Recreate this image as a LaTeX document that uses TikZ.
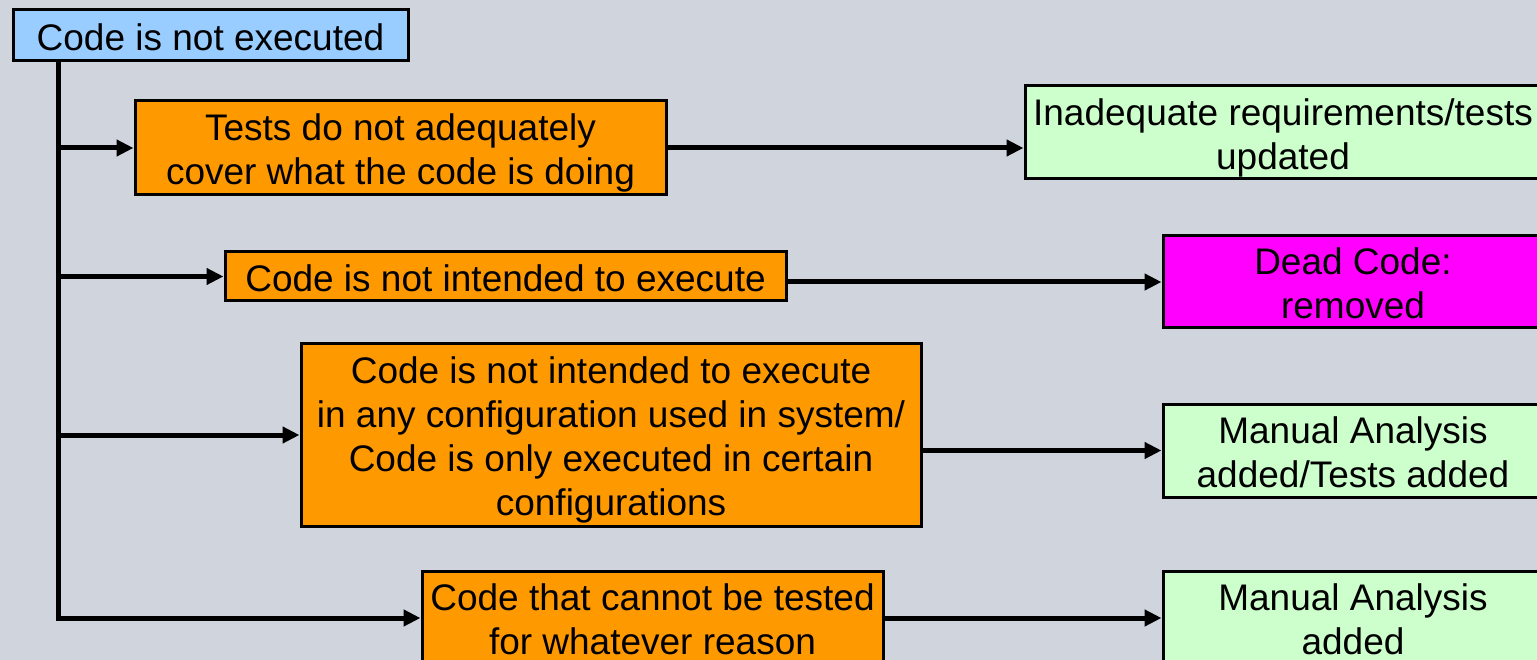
\documentclass[tikz,border=0pt]{standalone}
\usepackage{fontspec}
\setmainfont{Liberation Sans}
\usetikzlibrary{arrows.meta}
\definecolor{bgcol}{RGB}{208,212,220}
\definecolor{rootcol}{RGB}{153,204,255}
\definecolor{causecol}{RGB}{255,153,0}
\definecolor{fixcol}{RGB}{204,255,204}
\definecolor{deadcol}{RGB}{255,0,255}
% centred lines of box text, set a little below the box centre
\newcommand{\boxtext}[1]{\raisebox{0pt}[\dimexpr\height+6pt\relax][\dimexpr\depth-6pt\relax]{\begin{tabular}{@{}c@{}}#1\end{tabular}}}
\tikzset{
  box/.style={draw=black, line width=3pt, inner sep=0pt,
    font=\fontsize{37}{44}\selectfont},
  rootbox/.style={box, fill=rootcol},
  causebox/.style={box, fill=causecol},
  fixbox/.style={box, fill=fixcol},
  deadbox/.style={box, fill=deadcol},
  conn/.style={line width=5pt, -{Triangle[length=17pt,width=16pt]}}
}
\begin{document}
\begin{tikzpicture}[x=1pt, y=-1pt]
  \useasboundingbox (0,0) rectangle (1537,660);
  \fill[bgcol] (0,0) rectangle (1537,660);

  % root and causes
  \node[rootbox, minimum width=395pt, minimum height=51pt] (root) at (210.5,35.5) {\boxtext{Code is not executed}};
  \node[causebox, minimum width=531pt, minimum height=94pt] (b1) at (400.5,148) {\boxtext{Tests do not adequately\\cover what the code is doing}};
  \node[causebox, minimum width=561pt, minimum height=49pt] (b2) at (505.5,276.5) {\boxtext{Code is not intended to execute}};
  \node[causebox, minimum width=620pt, minimum height=182pt] (b3) at (611,435) {\boxtext{Code is not intended to execute\\in any configuration used in system/\\Code is only executed in certain\\configurations}};
  \node[causebox, minimum width=461pt, minimum height=94pt] (b4) at (652.5,618) {\boxtext{Code that cannot be tested\\for whatever reason}};

  % outcomes
  \node[fixbox, minimum width=516pt, minimum height=93pt] (g1) at (1283,132.5) {\boxtext{Inadequate requirements/tests\\updated}};
  \node[deadbox, minimum width=380pt, minimum height=92pt] (m) at (1353,282) {\boxtext{Dead Code:\\removed}};
  \node[fixbox, minimum width=380pt, minimum height=93pt] (g3) at (1353,450.5) {\boxtext{Manual Analysis\\added/Tests added}};
  \node[fixbox, minimum width=380pt, minimum height=93pt] (g4) at (1353,617.5) {\boxtext{Manual Analysis\\added}};

  % trunk from the root down to the last cause
  \coordinate (t0) at ([xshift=47pt]root.south west);
  \draw[conn] (t0) |- (b4.west);
  \draw[conn] (t0 |- b1.west) -- (b1.west);
  \draw[conn] (t0 |- b2.west) -- (b2.west);
  \draw[conn] (t0 |- b3.west) -- (b3.west);

  % causes to outcomes
  \draw[conn] (b1.east) -- (b1.east -| g1.west);
  \draw[conn] (m.west -| b2.east) -- (m.west);
  \draw[conn] (g3.west -| b3.east) -- (g3.west);
  \draw[conn] (b4.east) -- (b4.east -| g4.west);
\end{tikzpicture}
\end{document}
